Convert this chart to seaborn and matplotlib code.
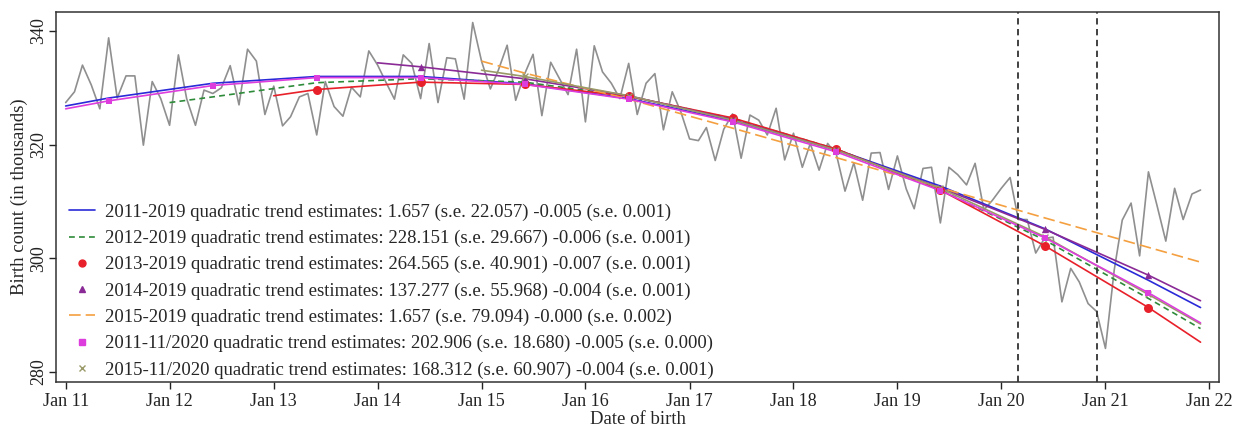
import pandas as pd
import matplotlib
matplotlib.use("Agg")
import matplotlib.pyplot as plt
from matplotlib.lines import Line2D
import seaborn as sns

# monthly birth counts (thousands), Jan 2011 - Dec 2021
births = [
    327.4, 329.3, 334.0, 330.5, 326.3, 338.8, 328.2, 332.1, 332.1, 319.9, 331.1, 328.1,
    323.4, 335.8, 328.1, 323.4, 329.6, 329.0, 330.0, 333.9, 327.0, 336.8, 334.7, 325.3,
    330.3, 323.3, 324.9, 328.4, 329.0, 321.7, 331.1, 326.7, 325.0, 330.1, 328.4, 336.5,
    334.0, 330.8, 328.0, 335.8, 334.3, 328.1, 337.8, 327.4, 335.3, 335.1, 328.0, 341.5,
    334.7, 329.8, 333.1, 337.5, 327.8, 332.4, 335.9, 325.1, 334.5, 331.7, 328.8, 336.8,
    324.0, 337.4, 332.8, 330.8, 328.1, 334.3, 325.3, 330.8, 332.5, 322.6, 329.3, 325.8,
    321.0, 320.7, 323.0, 317.2, 322.7, 325.4, 317.6, 325.2, 324.3, 321.7, 326.4, 317.3,
    322.0, 316.0, 320.2, 315.5, 320.2, 318.2, 311.8, 316.8, 310.2, 318.5, 318.6, 312.1,
    318.0, 312.2, 308.7, 315.8, 316.0, 306.2, 316.0, 314.7, 312.9, 316.7, 308.5, 310.2,
    312.3, 314.2, 306.8, 306.8, 300.9, 303.5, 303.7, 292.3, 298.2, 295.8, 292.0, 290.6,
    284.1, 298.0, 306.7, 309.7, 300.4, 315.2, 309.3, 303.0, 312.3, 306.8, 311.3, 312.0,
]
birth_dates = pd.date_range("2011-01-01", periods=len(births), freq="MS")

# trend values: Jan of first year, June of each year, Dec 2021
trend_2011_2019 = [326.8, 328.2, 330.8, 332.0, 332.0, 330.7, 328.1, 324.2, 319.1, 312.7, 305.2, 296.1, 291.3]
trend_2012_2019 = [327.4, 328.4, 330.9, 331.6, 331.0, 328.5, 324.6, 319.2, 312.0, 303.2, 292.9, 287.6]
trend_2013_2019 = [328.6, 329.7, 331.0, 330.6, 328.5, 324.7, 319.2, 312.0, 302.2, 291.3, 285.2]
trend_2014_2019 = [334.4, 333.7, 331.6, 328.6, 324.4, 319.0, 312.4, 305.1, 297.0, 292.5]
trend_2015_2019 = [334.7, 332.6, 328.0, 322.9, 317.7, 312.4, 307.1, 301.9, 299.3]
trend_2011_2020 = [326.3, 327.7, 330.4, 331.8, 331.8, 330.6, 328.0, 324.0, 318.7, 311.9, 303.6, 293.9, 288.6]
trend_2015_2020 = [333.1, 332.0, 328.6, 324.3, 319.0, 312.3, 303.8, 293.6, 288.4]

labels = [
    "2011-2019 quadratic trend estimates: 1.657 (s.e. 22.057) -0.005 (s.e. 0.001)",
    "2012-2019 quadratic trend estimates: 228.151 (s.e. 29.667) -0.006 (s.e. 0.001)",
    "2013-2019 quadratic trend estimates: 264.565 (s.e. 40.901) -0.007 (s.e. 0.001)",
    "2014-2019 quadratic trend estimates: 137.277 (s.e. 55.968) -0.004 (s.e. 0.001)",
    "2015-2019 quadratic trend estimates: 1.657 (s.e. 79.094) -0.000 (s.e. 0.002)",
    "2011-11/2020 quadratic trend estimates: 202.906 (s.e. 18.680) -0.005 (s.e. 0.000)",
    "2015-11/2020 quadratic trend estimates: 168.312 (s.e. 60.907) -0.004 (s.e. 0.001)",
]

covid_lines = ["2020-03-01", "2020-12-01"]
tick_years = list(range(2011, 2023))
tick_labels = ["Jan 11", "Jan 12", "Jan 13", "Jan 14", "Jan 15", "Jan 16",
               "Jan 17", "Jan 18", "Jan 19", "Jan 20", "Jan 21", "Jan 22"]


def trend_dates(start_year):
    d = [f"{start_year}-01-01"] + [f"{y}-06-01" for y in range(start_year, 2022)] + ["2021-12-01"]
    return pd.to_datetime(d)


sns.set_style("ticks")
plt.rcParams["font.family"] = ["Liberation Serif", "DejaVu Serif"]

fig = plt.figure(figsize=(12.36, 4.26), dpi=100)
ax = fig.add_axes([0.0453, 0.104, 0.9412, 0.867])

sns.lineplot(x=birth_dates, y=births, ax=ax, color="#8f8f8f", lw=1.2, zorder=1)

# (values, start year, colour, linestyle, marker, marker size)
series = [
    (trend_2011_2019, 2011, "#2a2ad8", "-", None, 0),
    (trend_2012_2019, 2012, "#2e8b3a", (0, (3.5, 2.5)), None, 0),
    (trend_2013_2019, 2013, "#e8202a", "-", "o", 42),
    (trend_2014_2019, 2014, "#8a2a96", "-", "^", 28),
    (trend_2015_2019, 2015, "#f4a040", (0, (7, 3)), None, 0),
    (trend_2015_2020, 2015, "#9a9a68", "-", "x", 18),
    (trend_2011_2020, 2011, "#dd3ddd", "-", "s", 24),
]
for vals, start, col, ls, mk, ms in series:
    d = trend_dates(start)
    sns.lineplot(x=d, y=vals, ax=ax, color=col, lw=1.2, linestyle=ls, zorder=2)
    if mk is not None:
        sns.scatterplot(x=d[1:-1], y=vals[1:-1], ax=ax, color=col, marker=mk, s=ms,
                        linewidth=1 if mk == "x" else 0, zorder=3)

for d in covid_lines:
    ax.axvline(pd.Timestamp(d), color="#333333", lw=1.3, linestyle=(0, (3.5, 2.5)), zorder=4)

ax.set_xlim(pd.Timestamp("2010-11-28"), pd.Timestamp("2022-02-05"))
ax.set_ylim(278.24, 343.29)
ax.set_xticks([pd.Timestamp(f"{y}-01-01") for y in tick_years])
ax.set_xticklabels(tick_labels)
ax.set_yticks([280, 300, 320, 340])
for lab in ax.get_yticklabels():
    lab.set_rotation(90)
    lab.set_va("center")

ax.tick_params(direction="out", length=5, width=1, labelsize=13, colors="#222222", pad=3)
ax.tick_params(axis="y", pad=1.5)
for sp in ax.spines.values():
    sp.set_visible(True)
    sp.set_color("#333333")
    sp.set_linewidth(1.1)

ax.set_xlabel("Date of birth", fontsize=13.5)
ax.set_ylabel("Birth count (in thousands)", fontsize=13.5)
ax.xaxis.set_label_coords(0.5, -0.08)
ax.yaxis.set_label_coords(-0.024, 0.5)

handles = [
    Line2D([], [], color="#2a2ad8", lw=1.2),
    Line2D([], [], color="#2e8b3a", lw=1.2, linestyle=(0, (3.5, 2.5))),
    Line2D([], [], color="#e8202a", marker="o", ls="none", ms=5),
    Line2D([], [], color="#8a2a96", marker="^", ls="none", ms=4.5),
    Line2D([], [], color="#f4a040", lw=1.2, linestyle=(0, (7, 3))),
    Line2D([], [], color="#dd3ddd", marker="s", ls="none", ms=4),
    Line2D([], [], color="#9a9a68", marker="x", ls="none", ms=4, mew=1),
]
ax.legend(handles, labels, loc="lower left", bbox_to_anchor=(0.011, 0.008), frameon=False,
          fontsize=13.5, handlelength=1.4, handletextpad=0.55, labelspacing=0.48,
          borderpad=0, borderaxespad=0, numpoints=1)

fig.savefig("out.png", dpi=100)
